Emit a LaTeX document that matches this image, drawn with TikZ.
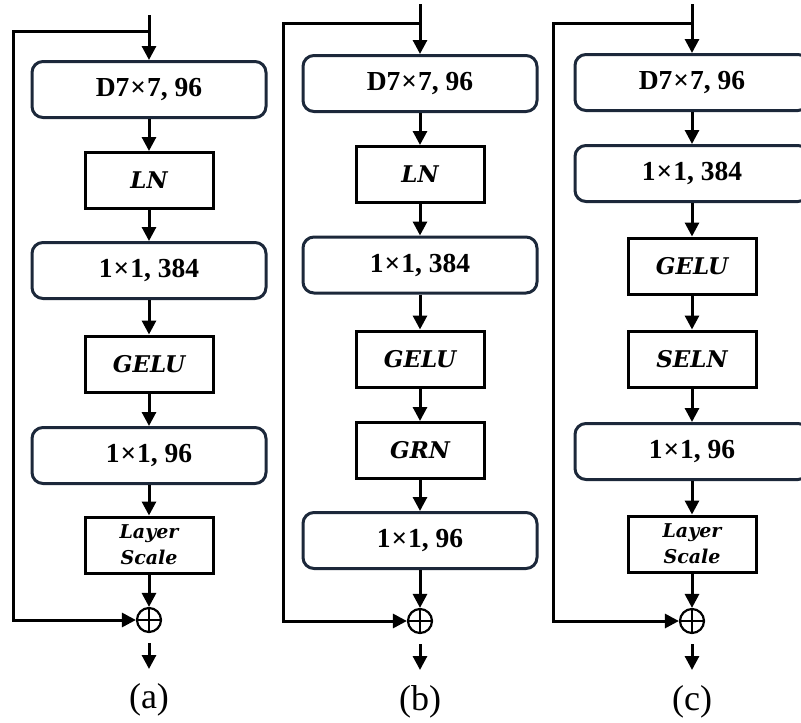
\documentclass[tikz,border=0pt]{standalone}
\usepackage{fontspec}
\setmainfont{Liberation Serif}
\newfontfamily\dvs{DejaVu Serif}
\usetikzlibrary{arrows.meta}
\definecolor{navy}{RGB}{28,40,58}
\tikzset{
  x=1pt, y=-1pt,
  ln/.style={line width=3pt, black},
  arr/.style={ln, -{Triangle[length=14pt,width=14pt]}},
  rbox/.style={draw=navy, line width=3pt, rounded corners=11pt,
     minimum width=234pt, minimum height=56pt, inner sep=0pt,
     font=\fontsize{27.5}{32}\selectfont\bfseries},
  sbox/.style={draw=black, line width=3pt, minimum width=128pt, minimum height=56pt,
     inner sep=0pt, font=\dvs\fontsize{23}{27}\selectfont\bfseries\itshape},
  lsbox/.style={sbox, align=center, font=\dvs\fontsize{19}{26}\selectfont\bfseries\itshape},
  plus/.style={circle, draw=black, line width=2.2pt, minimum size=24pt, inner sep=0pt,
     path picture={\draw[line width=2.2pt] (path picture bounding box.north) -- (path picture bounding box.south)
        (path picture bounding box.west) -- (path picture bounding box.east);}},
  captxt/.style={font=\fontsize{36}{40}\selectfont}
}
\begin{document}
\begin{tikzpicture}
\useasboundingbox (0,0) rectangle (801,723);
\clip (0,0) rectangle (801,723);
% ---------- (a) ----------
\coordinate (ain) at (149,15);
\coordinate (abr) at (149,31);
\coordinate (aleft) at (13,31);
\node[rbox] (ad7) at (149,89.5) {D7\kern1pt×\kern1pt7, 96};
\node[sbox] (aln) at (149,180.5) {LN};
\node[rbox] (a384) at (149,270.5) {1\kern1pt×\kern1pt1, 384};
\node[sbox] (agelu) at (149,364) {GELU};
\node[rbox] (a96) at (149,455.5) {1\kern1pt×\kern1pt1, 96};
\node[lsbox] (als) at (149,545) {Layer\\Scale};
\node[plus] (aplus) at (149,620) {};
\coordinate (aout) at (149,669);
\node[captxt] (acap) at (149,700) {(a)};
\draw[arr] (ain) -- (ad7);
\draw[arr] (ad7) -- (aln);
\draw[arr] (aln) -- (a384);
\draw[arr] (a384) -- (agelu);
\draw[arr] (agelu) -- (a96);
\draw[arr] (a96) -- (als);
\draw[arr] (als) -- (aplus);
\draw[arr] (abr) -- (aleft) |- (aplus);
\draw[arr, shorten <=10pt] (aplus.south) -- (aout);
% ---------- (b) ----------
\coordinate (bin) at (420,4);
\coordinate (bbr) at (420,23);
\coordinate (bleft) at (283,23);
\node[rbox] (bd7) at (420,83.5) {D7\kern1pt×\kern1pt7, 96};
\node[sbox] (bln) at (420,174.5) {LN};
\node[rbox] (b384) at (420,265) {1\kern1pt×\kern1pt1, 384};
\node[sbox] (bgelu) at (420,359) {GELU};
\node[sbox] (bgrn) at (420,450.5) {GRN};
\node[rbox] (b96) at (420,540.5) {1\kern1pt×\kern1pt1, 96};
\node[plus] (bplus) at (420,621) {};
\coordinate (bout) at (420,670);
\node[captxt] (bcap) at (420,702) {(b)};
\draw[arr] (bin) -- (bd7);
\draw[arr] (bd7) -- (bln);
\draw[arr] (bln) -- (b384);
\draw[arr] (b384) -- (bgelu);
\draw[arr] (bgelu) -- (bgrn);
\draw[arr] (bgrn) -- (b96);
\draw[arr] (b96) -- (bplus);
\draw[arr] (bbr) -- (bleft) |- (bplus);
\draw[arr, shorten <=10pt] (bplus.south) -- (bout);
% ---------- (c) ----------
\coordinate (cin) at (692,4);
\coordinate (cbr) at (692,23);
\coordinate (cleft) at (553,23);
\node[rbox] (cd7) at (692,82.5) {D7\kern1pt×\kern1pt7, 96};
\node[rbox] (c384) at (692,173.5) {1\kern1pt×\kern1pt1, 384};
\node[sbox] (cgelu) at (692,266) {GELU};
\node[sbox] (cseln) at (692,359) {SELN};
\node[rbox] (c96) at (692,451.5) {1\kern1pt×\kern1pt1, 96};
\node[lsbox] (cls) at (692,544) {Layer\\Scale};
\node[plus] (cplus) at (692,621) {};
\coordinate (cout) at (692,670);
\node[captxt] (ccap) at (692,702) {(c)};
\draw[arr] (cin) -- (cd7);
\draw[arr] (cd7) -- (c384);
\draw[arr] (c384) -- (cgelu);
\draw[arr] (cgelu) -- (cseln);
\draw[arr] (cseln) -- (c96);
\draw[arr] (c96) -- (cls);
\draw[arr] (cls) -- (cplus);
\draw[arr] (cbr) -- (cleft) |- (cplus);
\draw[arr, shorten <=10pt] (cplus.south) -- (cout);
\end{tikzpicture}
\end{document}
